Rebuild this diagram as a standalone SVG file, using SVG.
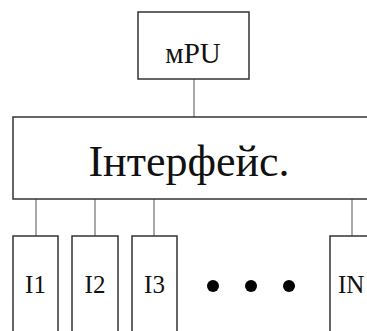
<svg xmlns="http://www.w3.org/2000/svg" width="367" height="331" viewBox="0 0 367 331">
<style>
.box{fill:#fff;stroke:#333;stroke-width:1.5}
.conn{stroke:#555;stroke-width:1;fill:none}
.t{font-family:"Liberation Serif","Times New Roman",serif;fill:#111;text-anchor:middle}
.dot{fill:#000}
</style>
<rect width="367" height="331" fill="#fff"/>
<g id="connectors">
<line class="conn" x1="194" y1="79" x2="194" y2="117"/>
<line class="conn" x1="36" y1="199" x2="36" y2="236"/>
<line class="conn" x1="95" y1="199" x2="95" y2="236"/>
<line class="conn" x1="154" y1="199" x2="154" y2="236"/>
<line class="conn" x1="352" y1="199" x2="352" y2="236"/>
</g>
<g id="mpu">
<rect class="box" x="138" y="12" width="111" height="67"/>
<text class="t" x="193" y="63" font-size="29">мPU</text>
</g>
<g id="interface">
<rect class="box" x="13" y="117" width="370" height="82"/>
<text class="t" x="189" y="176" font-size="44">Інтерфейс.</text>
</g>
<g id="i1">
<rect class="box" x="13" y="236" width="45" height="110"/>
<text class="t" x="35.5" y="293" font-size="25">I1</text>
</g>
<g id="i2">
<rect class="box" x="72" y="236" width="46" height="110"/>
<text class="t" x="95" y="293" font-size="25">I2</text>
</g>
<g id="i3">
<rect class="box" x="132" y="236" width="45" height="110"/>
<text class="t" x="154.5" y="293" font-size="25">I3</text>
</g>
<g id="dots">
<circle class="dot" cx="213" cy="286" r="6"/>
<circle class="dot" cx="251" cy="286" r="6"/>
<circle class="dot" cx="289" cy="286" r="6"/>
</g>
<g id="in">
<rect class="box" x="330" y="236" width="50" height="110"/>
<text class="t" x="338" y="293" font-size="25" style="text-anchor:start">IN</text>
</g>
</svg>
